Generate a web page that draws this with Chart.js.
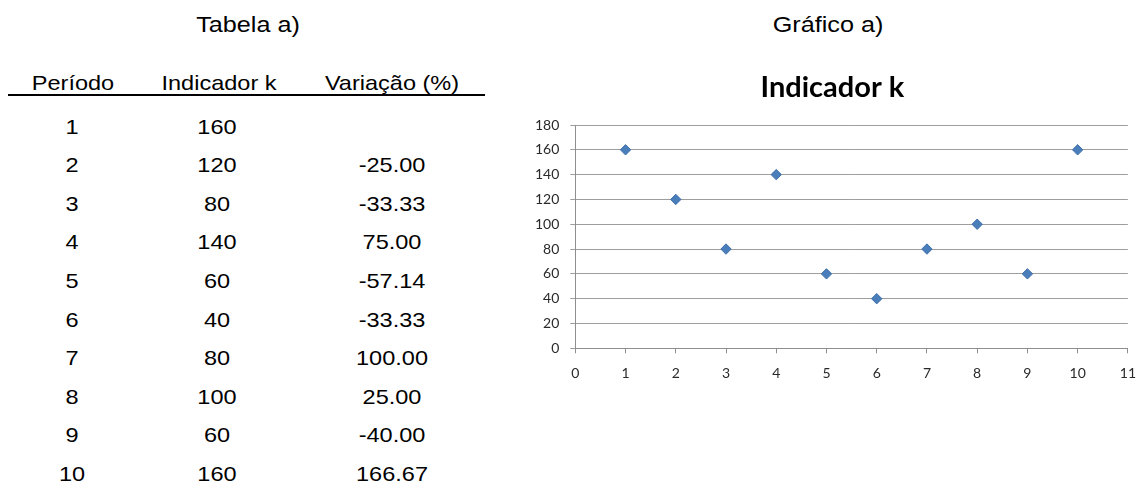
<!DOCTYPE html>
<html>
<head>
<meta charset="utf-8">
<script src="https://cdn.jsdelivr.net/npm/chart.js@4"></script>
<style>
  html, body { margin: 0; padding: 0; background: #fff; }
  body { width: 1136px; height: 493px; position: relative; overflow: hidden;
         font-family: "Liberation Sans", Arial, sans-serif; color: #000; }
  /* text is drawn slightly widened, like the rest of the sheet */
  .t { position: absolute; white-space: nowrap; line-height: 1; font-size: 21px;
       transform: translate(-50%, -50%) scaleX(1.12); }
  .rule { position: absolute; left: 8px; top: 94px; width: 477px; height: 2px; background: #000; }
  /* the chart object runs slightly past the right edge of the sheet */
  #chartBox { position: absolute; left: 528px; top: 60px; width: 620px; height: 330px; }
</style>
</head>
<body>
<div id="table"></div>
<div class="t" style="left:828px; top:25px; font-size:22.5px;">Gráfico a)</div>
<div id="chartBox"><canvas id="c"></canvas></div>
<script>
// Indicator k by period and its period-on-period change (%)
const periods = [1, 2, 3, 4, 5, 6, 7, 8, 9, 10];
const indicatorK = [160, 120, 80, 140, 60, 40, 80, 100, 60, 160];
const variation = ['', '-25.00', '-33.33', '75.00', '-57.14', '-33.33', '100.00', '25.00', '-40.00', '166.67'];
const headers = ['Período', 'Indicador k', 'Variação (%)'];
const tableTitle = 'Tabela a)';
const chartTitle = 'Indicador k';
const xTicks = [0, 1, 2, 3, 4, 5, 6, 7, 8, 9, 10, 11];
const yTicks = [0, 20, 40, 60, 80, 100, 120, 140, 160, 180];

// ---- table (left side) ----
const table = document.getElementById('table');
function addText(txt, x, y, size) {
  const d = document.createElement('div');
  d.className = 't';
  d.textContent = txt;
  d.style.left = x + 'px';
  d.style.top = y + 'px';
  if (size) d.style.fontSize = size + 'px';
  table.appendChild(d);
}
addText(tableTitle, 247.5, 25, 22.5);
const headX = [73, 219, 392];
headers.forEach((h, i) => addText(h, headX[i], 81.5));
const rule = document.createElement('div');
rule.className = 'rule';
table.appendChild(rule);
const colX = [72, 217, 392];
periods.forEach((p, i) => {
  const y = 125.5 + i * 38.6;
  addText(String(p), colX[0], y);
  addText(String(indicatorK[i]), colX[1], y);
  if (variation[i]) addText(variation[i], colX[2], y);
});

// ---- scatter chart (right side) ----
// the chart title is centred over the whole chart object rather than the canvas
const titleOffset = {
  id: 'titleOffset',
  afterLayout(chart) {
    const t = chart.titleBlock;
    if (t) t.left += 6;
  }
};

const pts = periods.map((p, i) => ({ x: p, y: indicatorK[i] }));
const tickFont = { family: 'Lato, "Open Sans", sans-serif', size: 14 };
new Chart(document.getElementById('c'), {
  type: 'scatter',
  data: {
    datasets: [{
      label: chartTitle,
      data: pts,
      pointStyle: 'rectRot',
      pointRadius: 5.2,
      pointHoverRadius: 5.2,
      backgroundColor: '#4A7EBB',
      borderColor: '#3F70AA',
      borderWidth: 1
    }]
  },
  plugins: [titleOffset],
  options: {
    responsive: true,
    maintainAspectRatio: false,
    animation: false,
    layout: { padding: { left: 0, right: 17.2, top: 0, bottom: 0 } },
    plugins: {
      legend: { display: false },
      tooltip: { enabled: false },
      title: {
        display: true,
        text: chartTitle,
        color: '#000',
        font: { family: 'Lato, "Open Sans", sans-serif', size: 29, weight: 'bold', lineHeight: 1.2 },
        padding: { top: 9.9, bottom: 20.3 }
      }
    },
    scales: {
      x: {
        type: 'linear',
        min: xTicks[0], max: xTicks[xTicks.length - 1],
        afterBuildTicks(scale) { scale.ticks = xTicks.map(v => ({ value: v })); },
        ticks: { color: '#2A2A2A', font: tickFont, padding: 12 },
        grid: { drawOnChartArea: false, drawTicks: true, tickLength: 5, color: '#8E8E8E' },
        border: { display: true, color: '#8E8E8E' },
        afterFit(scale) { scale.height = 41.7; }
      },
      y: {
        min: yTicks[0], max: yTicks[yTicks.length - 1],
        afterBuildTicks(scale) { scale.ticks = yTicks.map(v => ({ value: v })); },
        ticks: { color: '#2A2A2A', font: tickFont, padding: 11 },
        grid: { drawOnChartArea: true, drawTicks: true, tickLength: 5, color: '#9E9E9E' },
        border: { display: true, color: '#8E8E8E' },
        afterFit(scale) { scale.width = 47.3; }
      }
    }
  }
});
</script>
</body>
</html>
